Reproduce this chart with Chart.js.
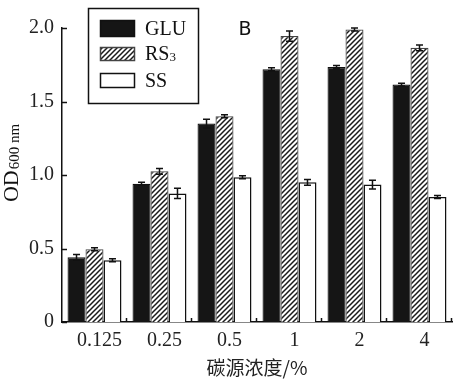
<!DOCTYPE html>
<html>
<head>
<meta charset="utf-8">
<script src="https://cdn.jsdelivr.net/npm/chart.js@4.4.1/dist/chart.umd.min.js"></script>
<style>
html,body{margin:0;padding:0;background:#fff;}
#wrap{position:relative;width:462px;height:379px;}
</style>
</head>
<body>
<div id="wrap"><canvas id="c" width="462" height="379"></canvas></div>
<script>
const categories = ['0.125', '0.25', '0.5', '1', '2', '4'];
const seriesNames = ['GLU', 'RS3', 'SS'];
const gluValues = [0.44, 0.94, 1.35, 1.72, 1.735, 1.615];
const rs3Values = [0.495, 1.025, 1.40, 1.945, 1.99, 1.865];
const ssValues = [0.42, 0.875, 0.985, 0.95, 0.935, 0.85];
const gluErrors = [0.02, 0.01, 0.03, 0.01, 0.01, 0.01];
const rs3Errors = [0.01, 0.02, 0.01, 0.035, 0.01, 0.02];
const ssErrors = [0.01, 0.035, 0.01, 0.02, 0.03, 0.01];
const yTicks = [0, 0.5, 1.0, 1.5, 2.0];
const yTickLabels = ['0', '0.5', '1.0', '1.5', '2.0'];
const xTitle = '碳源浓度/%';
const yTitleMain = 'OD';
const yTitleSub = '600 nm';
const panelLabel = 'B';

const SERIF = '"Liberation Serif", "DejaVu Serif", serif';

function makeHatch() {
  const s = 5;
  const pc = document.createElement('canvas');
  pc.width = s; pc.height = s;
  const g = pc.getContext('2d');
  g.fillStyle = '#ffffff';
  g.fillRect(0, 0, s, s);
  g.strokeStyle = '#1a1a1a';
  g.lineWidth = 1.5;
  g.beginPath();
  g.moveTo(-1, s + 1); g.lineTo(s + 1, -1);
  g.moveTo(-1, 1); g.lineTo(1, -1);
  g.moveTo(s - 1, s + 1); g.lineTo(s + 1, s - 1);
  g.stroke();
  return g.createPattern(pc, 'repeat');
}
const ctx0 = document.getElementById('c').getContext('2d');
const hatch = makeHatch();

const errorsBySeries = [gluErrors, rs3Errors, ssErrors];

const errorBarPlugin = {
  id: 'errorBars',
  afterDatasetsDraw(chart) {
    const ctx = chart.ctx;
    const y = chart.scales.y;
    ctx.save();
    ctx.strokeStyle = '#111';
    ctx.lineWidth = 1.5;
    chart.data.datasets.forEach((ds, di) => {
      const meta = chart.getDatasetMeta(di);
      meta.data.forEach((bar, i) => {
        const v = ds.data[i];
        const e = errorsBySeries[di][i];
        const yt = y.getPixelForValue(v + e);
        const yb = y.getPixelForValue(v - e);
        const x = bar.x;
        ctx.beginPath();
        ctx.moveTo(x, yt); ctx.lineTo(x, yb);
        ctx.moveTo(x - 3.5, yt); ctx.lineTo(x + 3.5, yt);
        ctx.moveTo(x - 3.5, yb); ctx.lineTo(x + 3.5, yb);
        ctx.stroke();
      });
    });
    ctx.restore();
  }
};

const decorPlugin = {
  id: 'decor',
  afterDraw(chart) {
    const ctx = chart.ctx;
    const a = chart.chartArea;
    const y = chart.scales.y;
    ctx.save();
    ctx.strokeStyle = '#111';
    ctx.lineWidth = 1.5;
    yTicks.forEach(v => {
      const py = Math.round(y.getPixelForValue(v)) + 0.5;
      ctx.beginPath();
      ctx.moveTo(a.left, py); ctx.lineTo(a.left + 5, py);
      ctx.stroke();
    });
    const n = categories.length;
    const w = (a.right - a.left) / n;
    for (let i = 1; i <= n; i++) {
      const px = Math.round(a.left + i * w) - 0.5;
      ctx.beginPath();
      ctx.moveTo(px, a.bottom); ctx.lineTo(px, a.bottom - 4);
      ctx.stroke();
    }
    // y title
    ctx.fillStyle = '#111';
    ctx.save();
    ctx.translate(12, 163);
    ctx.rotate(-Math.PI / 2);
    ctx.textBaseline = 'middle';
    ctx.font = '22px ' + SERIF;
    const mw = ctx.measureText(yTitleMain).width;
    ctx.font = '15px ' + SERIF;
    const sw = ctx.measureText(yTitleSub).width;
    const total = mw + 1 + sw;
    ctx.font = '22px ' + SERIF;
    ctx.textAlign = 'left';
    ctx.fillText(yTitleMain, -total / 2, 0);
    ctx.font = '15px ' + SERIF;
    ctx.fillText(yTitleSub, -total / 2 + mw + 1, 3);
    ctx.restore();
    // legend
    ctx.lineWidth = 1.5;
    ctx.strokeStyle = '#111';
    ctx.strokeRect(88.5, 8.5, 110, 95);
    const items = [
      {fill: '#151515', y: 20, h: 17},
      {fill: hatch, y: 47, h: 14},
      {fill: '#ffffff', y: 73, h: 15}
    ];
    items.forEach((it, i) => {
      ctx.fillStyle = it.fill;
      ctx.fillRect(100, it.y, 35, it.h);
      ctx.strokeStyle = i === 1 ? '#444' : '#111';
      ctx.strokeRect(100.5, it.y + 0.5, 34, it.h - 1);
      ctx.fillStyle = '#111';
      ctx.textBaseline = 'middle';
      ctx.textAlign = 'left';
      const cy = it.y + it.h / 2 + 1;
      if (i === 1) {
        ctx.font = '20px ' + SERIF;
        ctx.fillText('RS', 145, cy);
        const rw = ctx.measureText('RS').width;
        ctx.font = '13px ' + SERIF;
        ctx.fillText('3', 145 + rw, cy + 3);
      } else {
        ctx.font = '20px ' + SERIF;
        ctx.fillText(seriesNames[i], 145, cy);
      }
    });
    ctx.font = '19px "DejaVu Sans", sans-serif';
    ctx.fillStyle = '#111';
    ctx.textBaseline = 'middle';
    ctx.textAlign = 'center';
    ctx.fillText(panelLabel, 245, 30);
    ctx.restore();
  }
};

new Chart(ctx0, {
  type: 'bar',
  data: {
    labels: categories,
    datasets: [
      {label: seriesNames[0], data: gluValues, backgroundColor: '#151515', borderColor: '#111', borderWidth: 1.2},
      {label: seriesNames[1], data: rs3Values, backgroundColor: hatch, borderColor: '#444', borderWidth: 1.2},
      {label: seriesNames[2], data: ssValues, backgroundColor: '#ffffff', borderColor: '#111', borderWidth: 1.5}
    ]
  },
  options: {
    responsive: false,
    animation: false,
    devicePixelRatio: 1,
    layout: {padding: {top: 28, right: 10, left: 0, bottom: 0}},
    datasets: {bar: {categoryPercentage: 0.83, barPercentage: 1.0, borderSkipped: 'bottom'}},
    plugins: {
      legend: {display: false},
      tooltip: {enabled: false}
    },
    scales: {
      x: {
        grid: {display: false, drawTicks: false},
        border: {display: true, color: '#111', width: 1.5},
        ticks: {color: '#222', font: {family: SERIF, size: 20}, padding: 7, labelOffset: 5, maxRotation: 0},
        title: {display: true, text: xTitle, color: '#222', font: {family: '"Noto Sans CJK SC", sans-serif', size: 19}, padding: {top: 0, bottom: 0}},
        afterFit: s => { s.height = 57; }
      },
      y: {
        min: 0, max: 2.0,
        afterBuildTicks: s => { s.ticks = yTicks.map(v => ({value: v})); },
        grid: {display: false, drawTicks: false},
        border: {display: true, color: '#111', width: 1.5},
        ticks: {
          color: '#222', font: {family: SERIF, size: 20}, padding: 8,
          callback: (v) => { const i = yTicks.indexOf(v); return i >= 0 ? yTickLabels[i] : ''; }
        },
        afterFit: s => { s.width = 62; }
      }
    }
  },
  plugins: [errorBarPlugin, decorPlugin]
});
</script>
</body>
</html>
